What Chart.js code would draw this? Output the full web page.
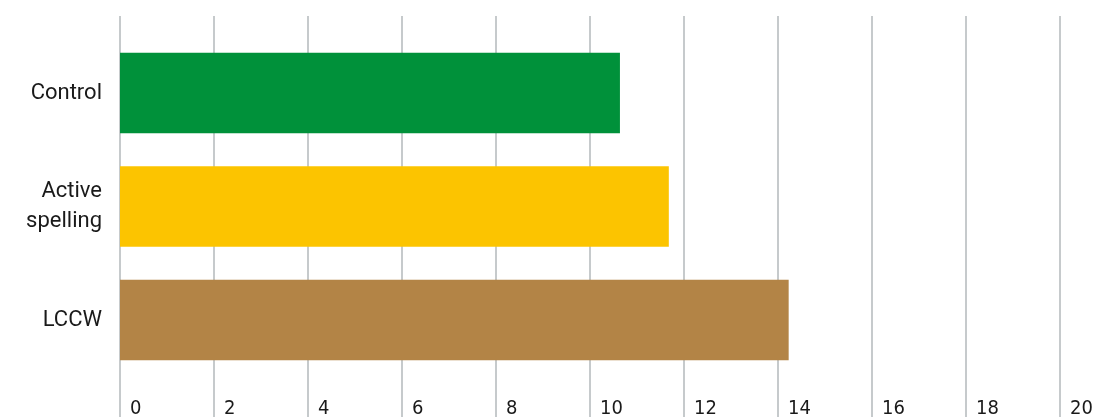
<!DOCTYPE html>
<html>
<head>
<meta charset="utf-8">
<script src="https://cdn.jsdelivr.net/npm/chart.js@4/dist/chart.umd.min.js"></script>
<style>
  html, body { margin: 0; padding: 0; background: #ffffff; }
  #wrap { width: 1097px; height: 417px; }
</style>
</head>
<body>
<div id="wrap"><canvas id="c" width="1097" height="417"></canvas></div>
<script>
const categories = ['Control', ['Active', 'spelling'], 'LCCW'];
const values = [10.63, 11.67, 14.22];
const barColors = ['#00913a', '#fcc400', '#b38446'];
const xTicks = [0, 2, 4, 6, 8, 10, 12, 14, 16, 18, 20];

const fullGrid = {
  id: 'fullGrid',
  beforeDatasetsDraw(chart) {
    const s = chart.scales.x;
    const ctx = chart.ctx;
    ctx.save();
    ctx.strokeStyle = '#c6cacc';
    ctx.lineWidth = 2;
    xTicks.forEach(v => {
      const px = Math.round(s.getPixelForValue(v));
      ctx.beginPath();
      ctx.moveTo(px, 16);
      ctx.lineTo(px, chart.height);
      ctx.stroke();
    });
    ctx.restore();
  }
};

new Chart(document.getElementById('c'), {
  type: 'bar',
  data: {
    labels: categories,
    datasets: [{
      data: values,
      backgroundColor: barColors,
      borderWidth: 0,
      barThickness: 80
    }]
  },
  options: {
    indexAxis: 'y',
    responsive: false,
    animation: false,
    devicePixelRatio: 1,
    layout: { padding: { top: 36.25, right: 37, left: 0, bottom: 0 } },
    plugins: { legend: { display: false }, tooltip: { enabled: false } },
    scales: {
      x: {
        type: 'linear',
        min: 0, max: 20,
        afterBuildTicks(scale) { scale.ticks = xTicks.map(v => ({ value: v })); },
        afterFit(scale) {
          scale.height = 40.25;
          scale.paddingLeft = 0;
          scale.paddingRight = 0;
        },
        grid: { display: false, drawTicks: false },
        border: { display: false },
        ticks: {
          align: 'start',
          labelOffset: 10,
          padding: 20,
          color: '#1a1a1a',
          font: { family: "'Liberation Sans Narrow', 'DejaVu Sans Condensed', sans-serif", size: 20 }
        }
      },
      y: {
        afterFit(scale) { scale.width = 120; },
        grid: { display: false, drawTicks: false },
        border: { display: false },
        ticks: {
          padding: 18,
          color: '#1a1a1a',
          font: { family: "Roboto, 'Noto Sans', sans-serif", size: 22, lineHeight: 1.36 }
        }
      }
    }
  },
  plugins: [fullGrid]
});
</script>
</body>
</html>
